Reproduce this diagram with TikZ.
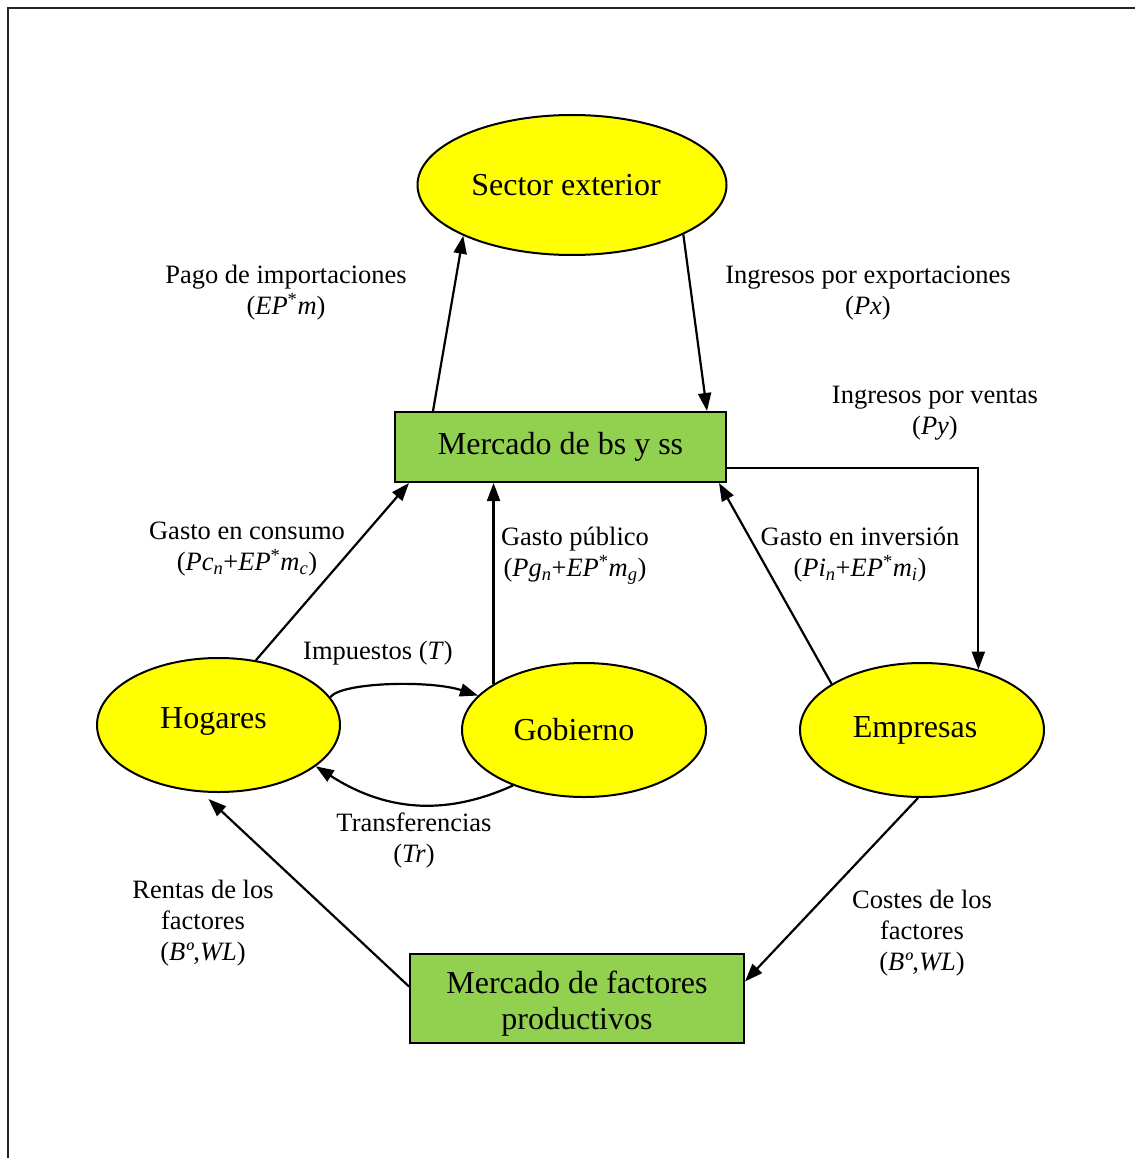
\documentclass[tikz,border=0pt]{standalone}
\usepackage{fontspec}
\setmainfont{Liberation Serif}
\usetikzlibrary{shapes.geometric,arrows.meta}
\definecolor{verde}{HTML}{92D050}
\definecolor{amarillo}{HTML}{FFFF00}
\begin{document}
\begin{tikzpicture}[x=1pt, y=-1pt, >={Triangle[length=18pt,width=13pt]},
    sector/.style={ellipse, draw, line width=2pt, fill=amarillo, inner sep=0pt,
        font=\fontsize{32}{36}\selectfont},
    mercado/.style={rectangle, draw, line width=2pt, fill=verde, inner sep=0pt,
        align=center, font=\fontsize{32}{36}\selectfont},
    lbl/.style={align=center, font=\fontsize{26.5}{31}\selectfont}]
\useasboundingbox (0,0) rectangle (1135,1158);
\draw[line width=2.2pt, black!85](8,1158)--(8,8)--(1135,8);
% agentes y mercados
\node[sector, minimum width=309pt, minimum height=140pt] (sext) at (572,185){Sector exterior\hspace*{12pt}};
\node[mercado, minimum width=331pt, minimum height=70pt] (mbs) at (560.5,447){Mercado de bs y ss};
\node[sector, minimum width=243pt, minimum height=134pt] (hog) at (218.5,725){\raisebox{4pt}[\height][\depth]{Hogares}\hspace*{10pt}};
\node[sector, minimum width=244pt, minimum height=134pt] (gob) at (584,730){Gobierno\hspace*{20pt}};
\node[sector, minimum width=244pt, minimum height=134pt] (emp) at (922,730){Empresas\hspace*{14pt}};
\node[mercado, minimum width=334pt, minimum height=89pt] (mfp) at (577,998.5){\raisebox{-6pt}[\height][\depth]{\begin{tabular}{@{}c@{}}Mercado de factores\\productivos\end{tabular}}};
% flujos
\begin{scope}[line width=2.2pt]
\draw[->]([xshift=39pt]mbs.north west)--(sext.205);
\draw[->](sext.336)--([xshift=-20pt]mbs.north east);
\draw[->]([yshift=-21pt]mbs.east)-|(emp.47.5);
\draw[->](hog.60)--([xshift=15pt]mbs.south west);
\draw[->](gob.153)--(gob.153 |- mbs.south);
\draw[->](emp.153)--([xshift=-8pt]mbs.south east);
\draw[->](hog.14) .. controls (342,682) and (430,680) .. (gob.162);
\draw[->](gob.218) .. controls (450,814) and (390,814) .. (hog.337);
\draw[->]([yshift=12pt]mfp.west)--([shift={(-10pt,-6pt)}]hog.south);
\draw[->]([xshift=-4pt]emp.south)--([yshift=17pt]mfp.east);
\end{scope}
% rotulos
\node[lbl] at (286,293){Pago de importaciones\\(\textit{EP}\textsuperscript{*}\textit{m})};
\node[lbl] at (868,293){Ingresos por exportaciones\\(\textit{Px})};
\node[lbl] at (935,413){Ingresos por ventas\\(\textit{Py})};
\node[lbl] at (247,549){Gasto en consumo\\(\textit{Pc}\textsubscript{\textit{n}}+\textit{EP}\textsuperscript{*}\textit{m}\textsubscript{\textit{c}})};
\node[lbl] at (575,556){Gasto público\\(\textit{Pg}\textsubscript{\textit{n}}+\textit{EP}\textsuperscript{*}\textit{m}\textsubscript{\textit{g}})};
\node[lbl] at (860,555){Gasto en inversión\\(\textit{Pi}\textsubscript{\textit{n}}+\textit{EP}\textsuperscript{*}\textit{m}\textsubscript{\textit{i}})};
\node[lbl] at (378,653){Impuestos (\textit{T})};
\node[lbl] at (414,840){Transferencias\\(\textit{Tr})};
\node[lbl] at (203,923){Rentas de los\\factores\\(\textit{Bº},\textit{WL})};
\node[lbl] at (922,933){Costes de los\\factores\\(\textit{Bº},\textit{WL})};
\end{tikzpicture}
\end{document}
